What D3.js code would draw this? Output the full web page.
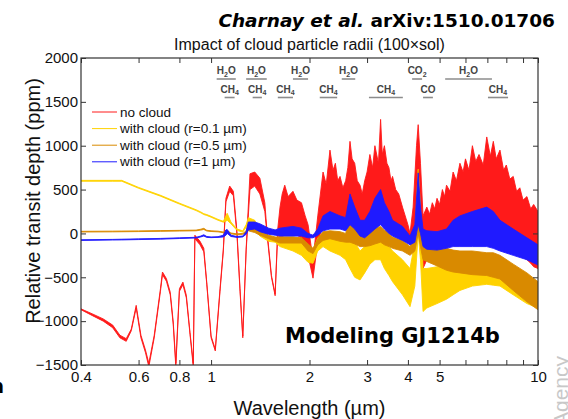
<!DOCTYPE html>
<html>
<head>
<meta charset="utf-8">
<script src="https://cdn.jsdelivr.net/npm/d3@7"></script>
<style>
body { margin: 0; background: #fff; }
text { font-family: "Liberation Sans", Arial, sans-serif; }
</style>
</head>
<body>
<div class="chart"></div>
<script>
// no cloud spectrum: wavelength (um), lower / upper edge of the noisy band (ppm)
var redWl = [0.40,0.435,0.468,0.50,0.526,0.55,0.57,0.59,0.61,0.63,0.645,0.67,0.70,0.71,0.73,0.75,0.766,0.78,0.80,0.82,0.84,0.862,0.882,0.892,0.925,0.95,0.97,1.0,1.03,1.065,1.09,1.11,1.14,1.17,1.20,1.226,1.25,1.28,1.315,1.36,1.41,1.46,1.48,1.53,1.57,1.60,
	1.625,1.65,1.68,1.72,1.78,1.83,1.89,1.94,1.98,2.05,2.12,
	2.2,2.25,2.31,2.36,2.4,2.44,2.48,2.53,2.58,2.62,2.66,2.7,2.75,2.8,2.855,2.9,2.95,3.0,3.06,3.12,3.17,3.25,3.3,3.34,3.39,3.45,3.5,3.55,3.59,3.67,3.75,3.85,4.0,4.06,4.15,4.25,4.3,4.37,4.45,
	4.57,4.66,4.75,4.83,4.91,5.0,5.1,5.18,5.25,5.38,5.5,5.63,5.77,5.9,6.0,6.15,6.3,6.45,6.6,6.8,6.97,7.15,7.3,7.45,7.65,7.85,8.0,8.2,8.4,8.6,8.8,9.0,9.25,9.5,9.7,10];
var redLo = [-870,-940,-1000,-1075,-1190,-1230,-1110,-850,-1190,-1360,-1520,-1190,-660,-470,-545,-700,-1040,-1520,-660,-585,-735,-1150,-1520,-60,-130,-210,-580,-1190,-1340,-660,-200,360,480,430,-20,-660,-1190,-200,500,540,450,250,20,-500,-710,20,
	-100,-50,0,0,0,-20,-50,-150,-250,-510,-100,
	100,120,150,170,200,180,150,120,100,150,200,150,100,80,50,20,0,50,100,150,200,200,300,250,200,150,100,80,50,20,0,-50,-100,-120,-60,200,400,100,-400,
	-300,-280,-250,-230,-200,-180,-150,-130,-100,-80,-50,-30,0,0,0,0,0,0,0,-30,-50,-50,-50,-70,-100,-120,-150,-170,-200,-220,-250,-270,-300,-340,-380,-400];
var redHi = [-860,-920,-975,-1045,-1160,-1200,-1090,-820,-1160,-1330,-1480,-1160,-630,-440,-515,-670,-1010,-1480,-630,-555,-705,-1130,-1480,-20,-90,-170,-560,-1170,-1320,-630,-180,400,540,480,20,-630,-1170,-180,680,700,630,350,60,-480,-690,60,
	300,450,550,420,480,380,350,200,100,-300,200,
	700,560,950,720,800,600,650,520,600,750,1050,850,800,600,550,450,600,700,900,750,1000,800,1300,900,1000,800,750,600,650,500,450,300,100,0,300,1000,1240,800,200,
	300,220,350,280,400,330,500,420,550,480,700,600,800,700,850,720,1000,820,900,780,1100,880,1050,850,950,720,780,620,650,480,520,380,420,280,330,250];

// the three cloudy spectra share one wavelength grid
var cloudWl = [0.40,0.5,0.533,0.6,0.7,0.8,0.9,0.93,0.95,0.97,1.0,1.05,1.09,1.11,1.12,1.15,1.2,1.25,1.28,1.3,1.36,1.41,1.5,1.57,1.625,1.78,1.89,1.98,2.05,2.12,2.2,2.31,2.48,2.58,2.66,2.75,2.855,2.95,3.06,3.17,3.3,3.39,3.5,3.59,3.85,4.06,4.2,4.3,4.37,4.45,4.57,4.91,5.25,5.5,5.77,6.3,6.97,7.3,7.65,8.4,9.25,10];
var yellowLo = [595,595,595,515,425,335,260,235,215,205,185,150,128,140,150,110,35,15,70,100,50,-30,-90,-100,-150,-200,-250,-330,-340,-200,-150,-200,-250,-300,-400,-500,-530,-450,-350,-300,-300,-400,-480,-550,-700,-835,-600,0,-300,-890,-850,-800,-750,-700,-650,-600,-580,-590,-600,-700,-800,-850];
var yellowHi = [605,605,605,525,435,345,270,245,225,215,195,160,138,200,230,130,50,30,100,180,150,40,-30,-50,-40,-40,-60,-150,-200,-50,0,0,-20,-60,-50,-100,-200,-150,-80,-50,-50,-100,-150,-200,-300,-400,-100,730,300,-400,-400,-380,-400,-390,-380,-380,-350,-360,-380,-450,-550,-650];
var orangeLo = [16,18,19,21,24,27,30,38,45,28,22,18,8,10,15,-5,-15,-10,10,30,10,-20,-60,-90,-110,-110,-110,-200,-230,-130,-80,-60,-90,-100,-100,-120,-150,-150,-140,-120,-100,-130,-150,-170,-200,-250,-200,0,-150,-300,-320,-370,-420,-440,-450,-470,-480,-500,-520,-650,-780,-870];
var orangeHi = [24,26,27,29,32,35,38,48,58,36,30,26,16,35,35,5,-5,0,30,100,90,60,-20,-40,-40,-40,-50,-120,-170,-60,20,30,20,0,190,100,0,0,40,60,80,40,0,-40,-80,-150,0,720,200,-100,-150,-180,-170,-190,-200,-200,-220,-220,-250,-350,-450,-550];
var blueLo = [-80,-75,-74,-70,-65,-58,-52,-40,-30,-45,-48,-45,-40,-20,0,-35,-45,-40,-10,40,50,20,-10,-20,-30,-30,-30,-50,-50,-20,30,50,50,30,100,50,-30,-50,0,50,100,50,0,-30,-80,-130,-100,100,0,-150,-180,-190,-170,-150,-150,-150,-150,-170,-200,-250,-300,-360];
var blueHi = [-72,-68,-66,-62,-57,-50,-44,-30,-15,-35,-40,-37,-20,40,45,-20,-35,-30,20,130,130,110,60,40,60,80,60,0,-20,50,200,250,200,180,450,300,150,150,250,400,500,350,250,150,80,-30,100,690,300,50,30,20,50,150,200,250,300,250,150,50,-50,-130];

var seriesNames = ["no cloud", "with cloud (r=0.1 \u00b5m)", "with cloud (r=0.5 \u00b5m)", "with cloud (r=1 \u00b5m)"];
var seriesColors = ["#ff1a1a", "#ffd200", "#d98a00", "#1f1aff"];

// absorption bands marked above the spectra
var molNames = ["H_2O","H_2O","H_2O","H_2O","CO_2","H_2O","CH_4","CH_4","CH_4","CH_4","CH_4","CO","CH_4"];
var molRow = [0,0,0,0,0,0,1,1,1,1,1,1,1];
var molFrom = [1.04,1.28,1.78,2.51,4.12,5.2,1.10,1.34,1.60,2.15,3.04,4.45,7.03];
var molTo = [1.19,1.48,1.98,2.76,4.42,7.23,1.18,1.43,1.78,2.43,3.86,4.77,8.1];

var xTicks = [0.4,0.6,0.8,1,2,3,4,5,6,7,8,9,10];
var xLabels = ["0.4","0.6","0.8","1","2","3","4","5","","","","","10"];
var yTicks = [-1500,-1000,-500,0,500,1000,1500,2000];

var width = 568, height = 419;
var plotL = 81, plotR = 538, plotT = 58, plotB = 365;

var svg = d3.select(".chart").append("svg")
	.attr("width", width)
	.attr("height", height);

var x = d3.scaleLog().domain([0.4, 10]).range([plotL, plotR]);
var y = d3.scaleLinear().domain([-1500, 2000]).range([plotB, plotT]);

function band(wl, lo, hi) {
	return wl.map(function(w, i) { return {w: w, lo: lo[i], hi: hi[i]}; });
}

var area = d3.area()
	.x(function(d) { return x(d.w); })
	.y0(function(d) { return y(d.lo); })
	.y1(function(d) { return y(d.hi); });

svg.append("clipPath").attr("id", "plot-clip")
	.append("rect")
	.attr("x", plotL).attr("y", plotT)
	.attr("width", plotR - plotL).attr("height", plotB - plotT);

var g = svg.append("g").attr("clip-path", "url(#plot-clip)");

var bands = [
	band(redWl, redLo, redHi),
	band(cloudWl, yellowLo, yellowHi),
	band(cloudWl, orangeLo, orangeHi),
	band(cloudWl, blueLo, blueHi)
];

bands.map(function(b, i) {
	g.append("path")
		.attr("d", area(b))
		.attr("fill", seriesColors[i])
		.attr("stroke", seriesColors[i])
		.attr("stroke-width", 0.9)
		.attr("stroke-linejoin", "round");
});

// axes, MATLAB style: inward ticks on all four sides
var xAxis = d3.axisBottom(x)
	.tickValues(xTicks)
	.tickFormat(function(d, i) { return xLabels[i]; })
	.tickSize(-5)
	.tickPadding(6);

svg.append("g")
	.attr("transform", "translate(0," + plotB + ")")
	.call(xAxis);

svg.append("g")
	.attr("transform", "translate(0," + plotT + ")")
	.call(d3.axisTop(x).tickValues(xTicks).tickFormat("").tickSize(-5));

svg.append("g")
	.attr("transform", "translate(" + plotL + ",0)")
	.call(d3.axisLeft(y).tickValues(yTicks).tickFormat(d3.format("d")).tickSize(-5).tickPadding(3));

svg.append("g")
	.attr("transform", "translate(" + plotR + ",0)")
	.call(d3.axisRight(y).tickValues(yTicks).tickFormat("").tickSize(-5));

svg.selectAll(".domain").remove();
svg.selectAll(".tick line").attr("stroke", "#333");
svg.selectAll(".tick text")
	.attr("fill", "#111")
	.style("font-size", "15px")
	.style("font-family", "'Liberation Sans', Arial, sans-serif");

svg.append("rect")
	.attr("x", plotL).attr("y", plotT)
	.attr("width", plotR - plotL).attr("height", plotB - plotT)
	.attr("fill", "none")
	.attr("stroke", "#333")
	.attr("stroke-width", 1.2);

// axis labels and titles
svg.append("text")
	.attr("x", (plotL + plotR) / 2)
	.attr("y", 415)
	.attr("text-anchor", "middle")
	.style("font-size", "20px")
	.attr("fill", "#111")
	.text("Wavelength (\u00b5m)");

svg.append("text")
	.attr("transform", "translate(40,201) rotate(-90)")
	.attr("text-anchor", "middle")
	.style("font-size", "20px")
	.attr("fill", "#111")
	.text("Relative transit depth (ppm)");

svg.append("text")
	.attr("x", (plotL + plotR) / 2)
	.attr("y", 50)
	.attr("text-anchor", "middle")
	.style("font-size", "16px")
	.attr("fill", "#111")
	.text("Impact of cloud particle radii (100\u00d7sol)");

var head = svg.append("text")
	.attr("x", 555)
	.attr("y", 27)
	.attr("text-anchor", "end")
	.style("font-family", "'DejaVu Sans', Verdana, sans-serif")
	.style("font-weight", "bold")
	.style("font-size", "18.5px")
	.attr("fill", "#000");
head.append("tspan").style("font-style", "italic").text("Charnay et al.");
head.append("tspan").text(" arXiv:1510.01706");

svg.append("text")
	.attr("x", 285)
	.attr("y", 343)
	.style("font-family", "'DejaVu Sans', Verdana, sans-serif")
	.style("font-weight", "bold")
	.style("font-size", "21px")
	.attr("fill", "#000")
	.text("Modeling GJ1214b");

// legend
seriesNames.map(function(name, i) {
	var ly = 112 + i * 16.6;
	svg.append("line")
		.attr("x1", 92).attr("x2", 117)
		.attr("y1", ly).attr("y2", ly)
		.attr("stroke", seriesColors[i])
		.attr("stroke-width", 1);
	svg.append("text")
		.attr("x", 120)
		.attr("y", ly + 4.5)
		.style("font-size", "13.5px")
		.attr("fill", "#111")
		.text(name);
});

// molecule labels with underlined band ranges
molNames.map(function(m, i) {
	var x0 = x(molFrom[i]), x1 = x(molTo[i]);
	var base = molRow[i] === 0 ? 74 : 92.5;
	svg.append("line")
		.attr("x1", x0).attr("x2", x1)
		.attr("y1", base + 5).attr("y2", base + 5)
		.attr("stroke", "#8c8c8c")
		.attr("stroke-width", 1.6);
	var parts = m.split("_");
	var t = svg.append("text")
		.attr("x", (x0 + x1) / 2)
		.attr("y", base)
		.attr("text-anchor", "middle")
		.style("font-size", "10px")
		.style("font-weight", "bold")
		.attr("fill", "#444");
	t.append("tspan").text(parts[0]);
	if (parts.length > 1) {
		var sub = parts[1].charAt(0), rest = parts[1].slice(1);
		t.append("tspan").attr("dy", 2.5).style("font-size", "7px").text(sub);
		if (rest) t.append("tspan").attr("dy", -2.5).text(rest);
	}
});

// bits of the slide around the chart
svg.append("text")
	.attr("transform", "translate(568,356) rotate(-90)")
	.attr("text-anchor", "end")
	.style("font-size", "21px")
	.attr("fill", "#c8c8c8")
	.text("European Space Agency");

svg.append("text")
	.attr("x", 4)
	.attr("y", 393)
	.attr("text-anchor", "end")
	.style("font-family", "'DejaVu Sans', Verdana, sans-serif")
	.style("font-weight", "bold")
	.style("font-size", "19px")
	.attr("fill", "#000")
	.text("n");
</script>
</body>
</html>
